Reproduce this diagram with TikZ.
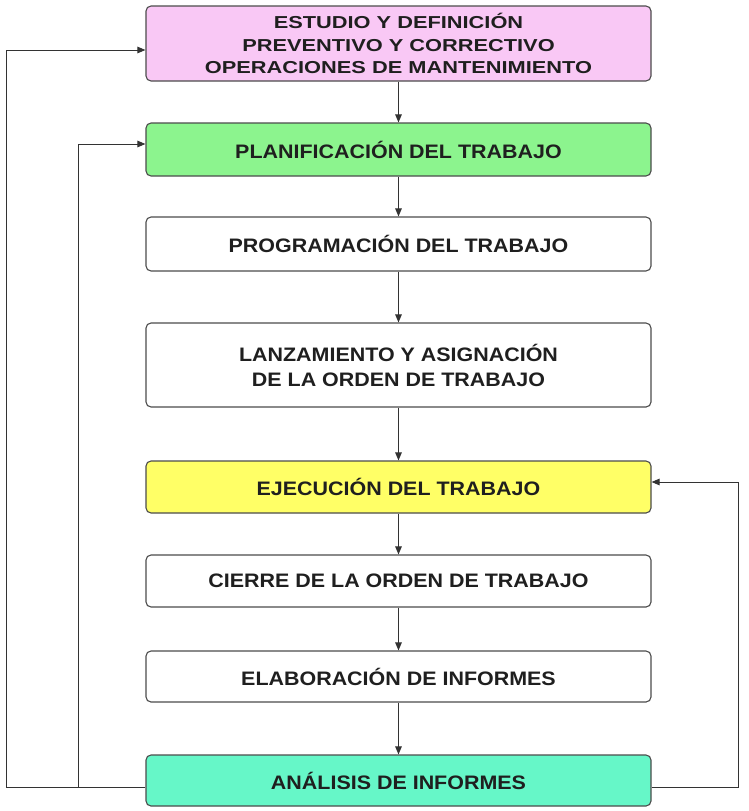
\documentclass[tikz,border=0pt]{standalone}
\usepackage{fontspec}
\setmainfont{Liberation Sans}
\usepackage{xcolor}
\usetikzlibrary{arrows.meta,positioning,calc}
\definecolor{rosa}{HTML}{F9C8F5}
\definecolor{verde}{HTML}{8CF48E}
\definecolor{amarillo}{HTML}{FFFF66}
\definecolor{aguamarina}{HTML}{66F7C8}
\tikzset{
  stagebox/.style={draw=black!70,rounded corners=5pt,fill=white,line width=1.1pt,
    minimum width=505pt,align=center,text=black!88,
    font=\fontsize{19.5}{25}\selectfont\addfontfeatures{FakeStretch=1.1}\bfseries},
  headbox/.style={stagebox,
    font=\fontsize{17.3}{22.5}\selectfont\addfontfeatures{FakeStretch=1.26}\bfseries},
  flow/.style={-{Triangle[length=8pt,width=6.5pt]},line width=1pt,black!80}
}
\begin{document}
\begin{tikzpicture}[x=1pt,y=-1pt]
\useasboundingbox (0,0) rectangle (749,811);

\node[headbox,fill=rosa,minimum height=75pt] (estudio) at (398.5,43.5)
  {ESTUDIO Y DEFINICIÓN\\PREVENTIVO Y CORRECTIVO\\OPERACIONES DE MANTENIMIENTO};
\node[stagebox,fill=verde,minimum height=53pt] (planif) at (398.5,149.5)
  {PLANIFICACIÓN DEL TRABAJO};
\node[stagebox,minimum height=54pt] (program) at (398.5,244)
  {PROGRAMACIÓN DEL TRABAJO};
\node[stagebox,minimum height=84pt] (lanz) at (398.5,365)
  {LANZAMIENTO Y ASIGNACIÓN\\DE LA ORDEN DE TRABAJO};
\node[stagebox,fill=amarillo,minimum height=52pt] (ejec) at (398.5,487)
  {EJECUCIÓN DEL TRABAJO};
\node[stagebox,minimum height=52pt] (cierre) at (398.5,581)
  {CIERRE DE LA ORDEN DE TRABAJO};
\node[stagebox,minimum height=51pt] (elab) at (398.5,676.5)
  {ELABORACIÓN DE INFORMES};
\node[stagebox,fill=aguamarina,minimum height=51pt] (analisis) at (398.5,780.5)
  {ANÁLISIS DE INFORMES};

\draw[flow] (estudio) -- (planif);
\draw[flow] (planif) -- (program);
\draw[flow] (program) -- (lanz);
\draw[flow] (lanz) -- (ejec);
\draw[flow] (ejec) -- (cierre);
\draw[flow] (cierre) -- (elab);
\draw[flow] (elab) -- (analisis);

% realimentacion
\coordinate (retIzq) at (6,787);
\coordinate (retMed) at (78,787);
\coordinate (retDer) at (738,787);
\draw[flow] ([yshift=-6.5pt]analisis.west) -- (retIzq) |- ([yshift=-6.5pt]estudio.west);
\draw[flow] (retMed) |- ([yshift=5.5pt]planif.west);
\draw[flow] ([yshift=-6.5pt]analisis.east) -- (retDer) |- ([yshift=5pt]ejec.east);
\end{tikzpicture}
\end{document}
